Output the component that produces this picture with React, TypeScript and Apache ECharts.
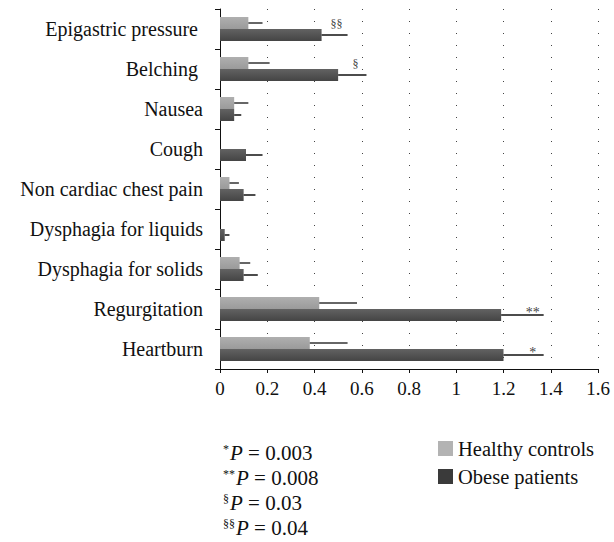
import React, { useEffect, useRef } from "react";
import * as echarts from "echarts";

const categories = [
  "Epigastric pressure ",
  "Belching ",
  "Nausea",
  "Cough",
  "Non cardiac chest pain",
  "Dysphagia for liquids",
  "Dysphagia for solids",
  "Regurgitation",
  "Heartburn",
];
const healthyMean = [0.12, 0.12, 0.06, 0, 0.04, 0, 0.083, 0.42, 0.38];
const healthySd = [0.06, 0.09, 0.06, 0, 0.04, 0, 0.045, 0.16, 0.16];
const obeseMean = [0.43, 0.5, 0.06, 0.11, 0.1, 0.02, 0.1, 1.19, 1.2];
const obeseSd = [0.11, 0.12, 0.03, 0.07, 0.05, 0.02, 0.06, 0.18, 0.17];
const obeseMarks = ["§§", "§", "", "", "", "", "", "**", "*"];
const xTicks = { min: 0, max: 1.6, interval: 0.2 };
const footnotes = [
  { sup: "*", value: "0.003" },
  { sup: "**", value: "0.008" },
  { sup: "§", value: "0.03" },
  { sup: "§§", value: "0.04" },
];
const seriesNames = ["Healthy controls", "Obese patients"];

const FONT = "'Liberation Serif', 'DejaVu Serif', serif";

export default function App() {
  const ref = useRef<HTMLDivElement>(null);
  useEffect(() => {
    document.body.style.margin = "0";
    const chart = echarts.init(ref.current!, null, { renderer: "svg" });
    const BW = 12;
    const errData: any[] = [];
    categories.forEach((_, i) => {
      if (healthySd[i] > 0) errData.push([healthyMean[i], healthySd[i], i, 0, ""]);
      if (obeseSd[i] > 0) errData.push([obeseMean[i], obeseSd[i], i, 1, obeseMarks[i]]);
    });
    chart.setOption({
      animation: false,
      grid: { left: 220, right: 16, top: 9, height: 360 },
      xAxis: {
        type: "value",
        min: xTicks.min,
        max: xTicks.max,
        interval: xTicks.interval,
        axisLine: { show: true, lineStyle: { color: "#111", width: 1 } },
        axisTick: { show: true, length: 4, lineStyle: { color: "#111" } },
        axisLabel: { fontFamily: FONT, fontSize: 19, color: "#111", margin: 10 },
        splitLine: {
          show: true,
          lineStyle: { color: "#444", width: 1, type: [1, 11] },
        },
      },
      yAxis: {
        type: "category",
        data: categories,
        inverse: true,
        axisLine: { show: true, lineStyle: { color: "#111", width: 1 } },
        axisTick: { show: true, length: 5, lineStyle: { color: "#111" } },
        axisLabel: { fontFamily: FONT, fontSize: 20, color: "#111", margin: 17 },
      },
      legend: {
        orient: "vertical",
        left: 438,
        top: 438,
        padding: 0,
        itemWidth: 15,
        itemHeight: 15,
        itemGap: 7,
        itemTextGap: 14,
        textStyle: { fontFamily: FONT, fontSize: 20.5, color: "#111", lineHeight: 20 },
        data: [
          { name: seriesNames[0], icon: "rect", itemStyle: { color: "#b3b3b3" } },
          { name: seriesNames[1], icon: "rect", itemStyle: { color: "#3a3a3a" } },
        ],
      },
      series: [
        {
          name: seriesNames[0],
          type: "bar",
          data: healthyMean,
          barWidth: BW,
          barGap: "0%",
          itemStyle: {
            color: new echarts.graphic.LinearGradient(0, 0, 0, 1, [
              { offset: 0, color: "#afafaf" },
              { offset: 1, color: "#9a9a9a" },
            ]),
          },
        },
        {
          name: seriesNames[1],
          type: "bar",
          data: obeseMean,
          barWidth: BW,
          barGap: "0%",
          itemStyle: {
            color: new echarts.graphic.LinearGradient(0, 0, 0, 1, [
              { offset: 0, color: "#626262" },
              { offset: 1, color: "#444444" },
            ]),
          },
        },
        {
          type: "custom",
          data: errData,
          silent: true,
          z: 5,
          renderItem: (params: any, api: any) => {
            const mean = api.value(0);
            const sd = api.value(1);
            const cat = api.value(2);
            const s = api.value(3);
            const mark: string = errData[params.dataIndex][4];
            const a = api.coord([mean, cat]);
            const b = api.coord([mean + sd, cat]);
            const y = a[1] + (s === 0 ? -BW / 2 : BW / 2);
            const children: any[] = [
              {
                type: "line",
                shape: { x1: a[0], y1: y, x2: b[0], y2: y },
                style: { stroke: s === 0 ? "#333" : "#111", lineWidth: 1.5 },
              },
            ];
            if (mark) {
              const isStar = mark.indexOf("*") >= 0;
              children.push({
                type: "text",
                x: b[0] - 11,
                y: isStar ? y - 3 : y - 11,
                style: {
                  text: mark,
                  fontFamily: FONT,
                  fontSize: isStar ? 14 : 12,
                  fill: "#444",
                  align: "center",
                  verticalAlign: "middle",
                },
              });
            }
            return { type: "group", children };
          },
        },
      ],
      graphic: footnotes.map((f, i) => ({
        type: "text",
        left: 223,
        top: 442 + i * 25,
        style: {
          text: `{s|${f.sup}}{p|P}{t| = ${f.value}}`,
          rich: {
            s: { fontFamily: FONT, fontSize: 12, fill: "#111", verticalAlign: "top", lineHeight: 20, padding: [0, 1, 0, 0] },
            p: { fontFamily: FONT, fontSize: 21, fontStyle: "italic", fill: "#111", lineHeight: 20 },
            t: { fontFamily: FONT, fontSize: 21, fill: "#111", lineHeight: 20 },
          },
        },
      })),
    });
    return () => chart.dispose();
  }, []);
  return <div ref={ref} style={{ width: 614, height: 542 }} />;
}
